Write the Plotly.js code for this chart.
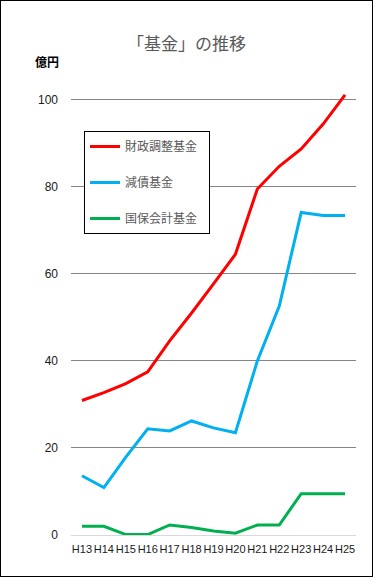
<!DOCTYPE html>
<html>
<head>
<meta charset="utf-8">
<script src="https://cdn.plot.ly/plotly-3.0.1.min.js"></script>
<style>
html,body{margin:0;padding:0;background:#fff;}
#wrap{position:relative;width:373px;height:578px;}
#chart{position:absolute;left:0;top:0;width:373px;height:578px;}
#frame{position:absolute;left:0;top:0;width:371px;height:575px;border:1px solid #000;pointer-events:none;}
</style>
</head>
<body>
<div id="wrap"><div id="chart"></div><div id="frame"></div></div>
<script>
const categories = ["H13","H14","H15","H16","H17","H18","H19","H20","H21","H22","H23","H24","H25"];
const zaiseiChousei = [30.9, 32.7, 34.8, 37.5, 44.6, 51.0, 57.7, 64.5, 79.5, 84.7, 88.7, 94.4, 101.1];
const gensai = [13.6, 10.9, 17.9, 24.4, 23.9, 26.2, 24.6, 23.5, 40.0, 52.6, 74.1, 73.4, 73.4];
const kokuhoKaikei = [2.0, 2.0, 0.1, 0.1, 2.3, 1.7, 0.9, 0.4, 2.3, 2.3, 9.5, 9.5, 9.5];
const seriesNames = ["財政調整基金", "減債基金", "国保会計基金"];
const yTicks = [0, 20, 40, 60, 80, 100];

const colors = ["#ff0000", "#00b0f0", "#00b050"];
const series = [zaiseiChousei, gensai, kokuhoKaikei];
const traces = series.map((vals, i) => ({
  type: "scatter", mode: "lines", x: categories, y: vals, name: seriesNames[i] + "\u2002",
  legendgroup: "g" + i,
  line: {color: colors[i], width: 3}, cliponaxis: false, hoverinfo: "skip"
}));

const font = "'Liberation Sans', Arial, 'Noto Sans CJK JP', sans-serif";
const layout = {
  width: 373, height: 578,
  margin: {l: 71, r: 17, t: 91, b: 43, pad: 0},
  paper_bgcolor: "#fff", plot_bgcolor: "#fff",
  font: {family: font, size: 11, color: "#000"},
  title: {text: "「基金」の推移", font: {family: "'Noto Sans CJK JP', sans-serif", size: 17, color: "#595959"},
          x: 0.5, xanchor: "center", y: 1 - 44/578, yanchor: "middle", yref: "container"},
  showlegend: true,
  legend: {x: (84-71)/285, y: (535-131)/444, xanchor: "left", yanchor: "top",
           bordercolor: "#000", borderwidth: 1, bgcolor: "#fff",
           font: {family: "'Noto Sans CJK JP', sans-serif", size: 12, color: "#595959"},
           tracegroupgap: 17, itemwidth: 30},
  xaxis: {type: "category", range: [-0.5, 12.5], showgrid: false, showline: false, zeroline: false,
          ticks: "", tickangle: 0, ticklabelstandoff: 6,
          tickfont: {family: font, size: 11, color: "#1a1a1a"}, fixedrange: true},
  yaxis: {range: [0, 102], tickvals: yTicks, ticktext: yTicks.map(String), showgrid: true,
          gridcolor: "#868686", gridwidth: 1, zeroline: true, zerolinecolor: "#d9d9d9", zerolinewidth: 1,
          showline: false, ticks: "", ticklen: 0, ticklabelstandoff: 12,
          tickfont: {family: font, size: 12, color: "#1a1a1a"}, fixedrange: true},
  annotations: [{text: "<b>億円</b>", xref: "paper", yref: "paper", x: -38/285, y: (535-61)/444,
                 xanchor: "left", yanchor: "middle", showarrow: false,
                 font: {family: "'Noto Sans CJK JP', sans-serif", size: 12, color: "#000"}}]
};
Plotly.newPlot("chart", traces, layout, {displayModeBar: false, staticPlot: true});
</script>
</body>
</html>
